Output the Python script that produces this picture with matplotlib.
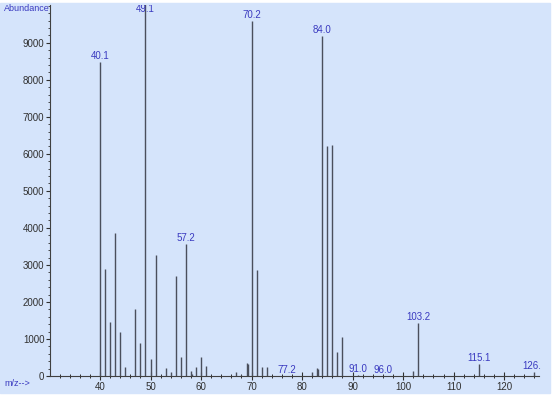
import matplotlib.pyplot as plt
from matplotlib.patches import Rectangle
from matplotlib.ticker import MultipleLocator

# m/z values and abundances
mz = [40, 41, 42, 43, 44, 45, 47, 48, 49, 50, 51, 53, 54, 55, 56, 57, 58, 58.3,
      59, 60, 61, 67, 68, 69, 69.2, 70, 71, 72, 73, 77, 82, 83, 83.2, 84, 85, 86,
      87, 88, 91, 96, 102, 103, 115, 126]
abund = [8480, 2890, 1470, 3860, 1200, 240, 1810, 890, 10600, 460, 3270, 216, 108,
         2710, 520, 3564, 135, 60, 240, 510, 270, 116, 30, 342, 320, 9584, 2860,
         234, 234, 10, 100, 207, 190, 9180, 6210, 6230, 656, 1045, 30, 10, 135,
         1420, 324, 116]

# labelled peaks
lab_mz = [40, 49, 57, 70, 77, 84, 91, 96, 103, 115, 126]
lab_txt = ['40.1', '49.1', '57.2', '70.2', '77.2', '84.0', '91.0', '96.0',
           '103.2', '115.1', '126.0']
yticks = [0, 1000, 2000, 3000, 4000, 5000, 6000, 7000, 8000, 9000]

bg = '#d5e4fb'
blue = '#3a3ac0'
ymax = 10020

fig = plt.figure(figsize=(5.6, 3.96), dpi=100)
fig.patches.append(Rectangle((0, 3 / 396), 550 / 560, 390 / 396,
                             transform=fig.transFigure, color=bg, zorder=-10))
ax = fig.add_axes([50 / 560, 20 / 396, 491 / 560, 371 / 396])
ax.set_zorder(5)
ax.set_facecolor(bg)

ax.vlines(mz, 0, abund, color='#4a4f5c', lw=1.0)

for m, t in zip(lab_mz, lab_txt):
    v = abund[mz.index(m)]
    y = min(v + 30, 9780)
    ax.text(m, y, t, color=blue, fontsize=7, ha='center', va='bottom',
            family='Liberation Sans', clip_on=True)

ax.set_xlim(30.1, 127.3)
ax.set_ylim(0, ymax)
for s in ['top', 'right']:
    ax.spines[s].set_visible(False)
for s in ['left', 'bottom']:
    ax.spines[s].set_color('#404040')
    ax.spines[s].set_linewidth(0.8)
ax.spines['bottom'].set_bounds(30.1, 127)

ax.xaxis.set_minor_locator(MultipleLocator(2))
ax.set_yticks(yticks)
ax.yaxis.set_minor_locator(MultipleLocator(200))
ax.set_xticks([40, 50, 60, 70, 80, 90, 100, 110, 120])
ax.tick_params(axis='x', which='major', direction='inout', length=6, width=0.8,
               labelsize=7, pad=1, colors='#303030')
ax.tick_params(axis='x', which='minor', direction='inout', length=3, width=0.7,
               colors='#303030')
ax.tick_params(axis='y', which='major', direction='out', length=3, width=0.8,
               labelsize=7, pad=1, colors='#303030')
ax.tick_params(axis='y', which='minor', direction='out', length=1.5, width=0.6,
               colors='#303030')
for lbl in ax.get_xticklabels() + ax.get_yticklabels():
    lbl.set_family('Liberation Sans')

fig.text(50 / 560, 1 - 13 / 396, 'Abundance', color=blue, fontsize=6.5,
         ha='right', va='bottom', family='Liberation Sans')
fig.text(4 / 560, 1 - 384 / 396, 'm/z-->', color=blue, fontsize=6.5,
         ha='left', va='center', family='Liberation Sans')

fig.savefig('out.png', dpi=100, facecolor='white')
